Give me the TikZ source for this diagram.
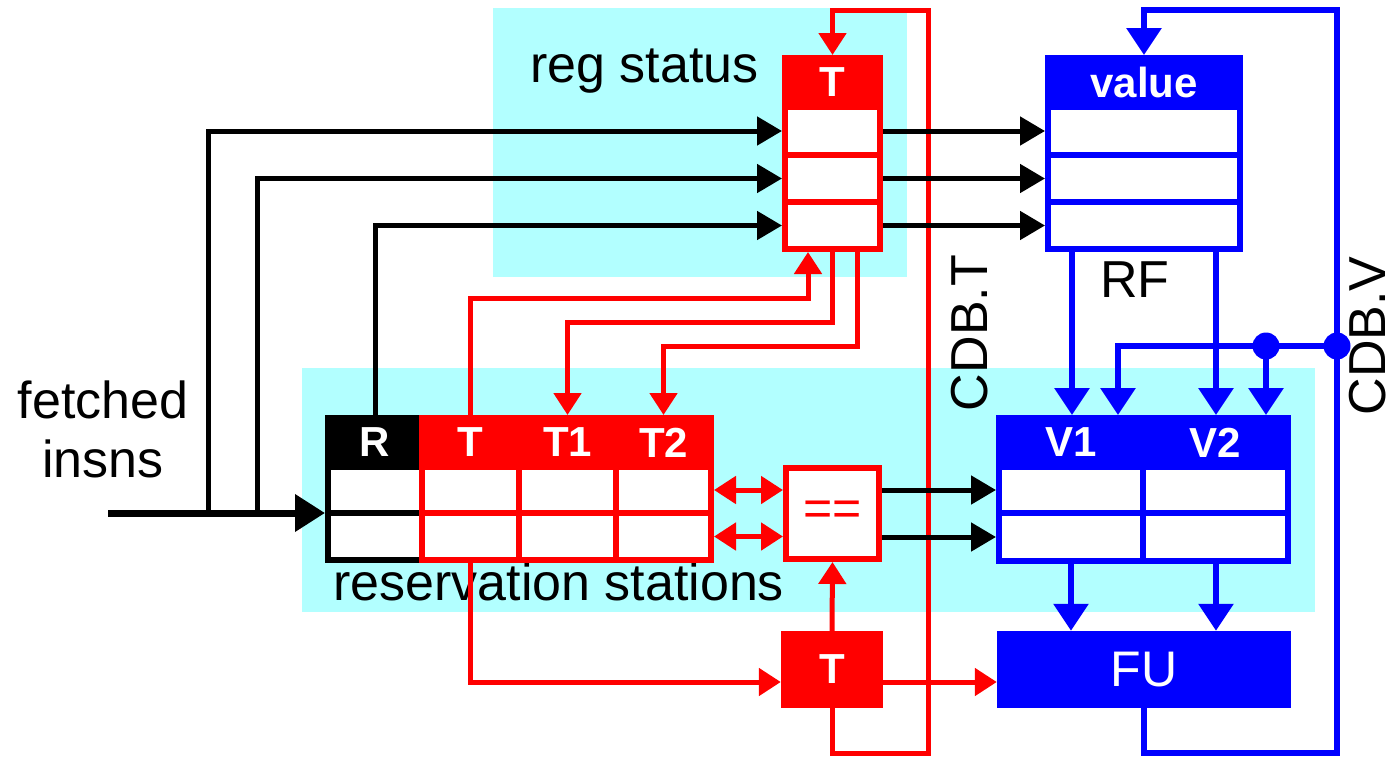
\documentclass[tikz,border=0pt]{standalone}
\usepackage{fontspec}
\setmainfont{Liberation Sans}
\usetikzlibrary{arrows.meta}
\pgfdeclarelayer{bg}
\pgfdeclarelayer{wires}
\pgfsetlayers{bg,wires,main}
\definecolor{cyanbg}{RGB}{178,255,255}
\tikzset{
  lbl/.style={font=\fontsize{52}{60}\selectfont, inner sep=0pt},
  sz/.style 2 args={minimum width=#1pt, minimum height=#2pt},
  cell/.style={draw=#1, line width=6pt, fill=white, inner sep=0pt},
  hcell/.style={draw=#1, fill=#1, line width=6pt, inner sep=0pt, text=white, font=\bfseries\fontsize{42}{50}\selectfont},
  bw/.style={draw=black, line width=5pt, -{Triangle[length=25pt,width=28pt]}},
  rw/.style={draw=red, line width=5pt, -{Triangle[length=22pt,width=27pt]}},
  rwtwo/.style={draw=red, line width=5pt, {Triangle[length=22pt,width=27pt]}-{Triangle[length=22pt,width=27pt]}},
  bluew/.style={draw=blue, line width=6pt, -{Triangle[length=27pt,width=34pt]}},
}
\begin{document}
\begin{tikzpicture}[x=1pt,y=-1pt]
\useasboundingbox (0,0) rectangle (1400,758);

% ---------- reg status table
\node[cell=red, sz={95}{48}] (st1) at (832.5,131) {};
\node[cell=red, sz={95}{47}] (st2) at (832.5,178.5) {};
\node[cell=red, sz={95}{47}] (st3) at (832.5,225.5) {};
\node[hcell=red, sz={95}{49}] (stH) at (832.5,82.5) {T};

% ---------- register file
\node[cell=blue, sz={192}{48}] (rf1) at (1144,131) {};
\node[cell=blue, sz={192}{47}] (rf2) at (1144,178.5) {};
\node[cell=blue, sz={192}{47}] (rf3) at (1144,225.5) {};
\node[hcell=blue, sz={192}{49}] (rfH) at (1144,82.5) {value};

% ---------- reservation stations
\node[cell=black, sz={94}{46}] (r1) at (375,490) {};
\node[cell=black, sz={94}{47}] (r2) at (375,536.5) {};
\node[hcell=black, sz={94}{49}] (rH) at (375,442.5) {R};
\node[cell=red, sz={97}{46}] (t1a) at (470.5,490) {};
\node[cell=red, sz={97}{47}] (t1b) at (470.5,536.5) {};
\node[cell=red, sz={97}{46}] (a1) at (567.5,490) {};
\node[cell=red, sz={97}{47}] (a2) at (567.5,536.5) {};
\node[cell=red, sz={95}{46}] (b1) at (663.5,490) {};
\node[cell=red, sz={95}{47}] (b2) at (663.5,536.5) {};
\node[hcell=red, sz={97}{49}] (tH) at (470.5,442.5) {T};
\node[hcell=red, sz={97}{49}] (aH) at (567.5,442.5) {T1};
\node[hcell=red, sz={95}{49}] (bH) at (663.5,442.5) {T2};

% ---------- V table
\node[cell=blue, sz={144}{46}] (v11) at (1071,490) {};
\node[cell=blue, sz={145}{46}] (v12) at (1215.5,490) {};
\node[cell=blue, sz={144}{48}] (v21) at (1071,537) {};
\node[cell=blue, sz={145}{48}] (v22) at (1215.5,537) {};
\node[hcell=blue, sz={144}{49}] (v1H) at (1071,442.5) {V1};
\node[hcell=blue, sz={145}{49}] (v2H) at (1215.5,442.5) {V2};

% ---------- comparator, tag, FU
\node[cell=red, sz={93}{91}, text=red, font=\fontsize{50}{60}\selectfont] (eq) at (832.5,513.5) {==};
\node[fill=red, inner sep=0pt, sz={102}{77}, text=white, font=\bfseries\fontsize{42}{50}\selectfont] (tb) at (832,669.5) {T};
\node[fill=blue, inner sep=0pt, sz={294}{77}, text=white, font=\fontsize{50}{60}\selectfont] (fu) at (1144,669.5) {FU};

% ---------- backgrounds and labels
\begin{pgfonlayer}{bg}
\fill[cyanbg] (493,8) rectangle (907,277);
\fill[cyanbg] (302,368) rectangle (1315,612);
\node[lbl, anchor=base west] (lreg) at (530,82) {reg status};
\node[lbl, anchor=base west] (lrs) at (333,600) {reservation stations};
\node[lbl, anchor=base west] (lrf) at (1100,297) {RF};
\node[lbl, anchor=base] (lf1) at (103,418) {fetched};
\node[lbl, anchor=base] (lf2) at (103,477) {insns};
\node[lbl, rotate=90] (lcdbt) at (970,333) {CDB.T};
\node[lbl, rotate=90] (lcdbv) at (1368,336) {CDB.V};
\end{pgfonlayer}

% ---------- wires
\begin{pgfonlayer}{wires}
% red
\coordinate (cbtB) at (928,753);
\coordinate (cbtT) at (928,10);
\draw[rw] (tb.south) |- (cbtB) -- (cbtT) -| (stH.north);
\coordinate (ha) at (808,298);
\draw[rw] (tH.north) |- (ha) -- (ha |- st3.south);
\draw[rw] (st3.south) |- (aH.north |- 0,322) -- (aH.north);
\draw[rw] (st3.south -| 857,0) |- (bH.north |- 0,346) -- (bH.north);
\draw[rw] (t1b.south) |- (tb.west |- 0,682);
\draw[rw] (tb.east |- 0,682) -- (fu.west |- 0,682);
\draw[rw] (tb.north) -- (eq.south);
\draw[rwtwo] (b1.east) -- (eq.west |- b1.east);
\draw[rwtwo] (b2.east) -- (eq.west |- b2.east);

% black
\coordinate (fin) at (108,513);
\coordinate (ja) at (208,513);
\coordinate (jb) at (257,513);
\draw[line width=7pt, -{Triangle[length=30pt,width=36pt]}] (fin) -- (fin -| r1.west);
\draw[bw] (ja) |- (st1.west);
\draw[bw] (jb) |- (st2.west);
\draw[bw] (rH.north) |- (st3.west);
\draw[bw] (st1.east) -- (rf1.west);
\draw[bw] (st2.east) -- (rf2.west);
\draw[bw] (st3.east) -- (rf3.west);
\draw[bw] (eq.east |- v11.west) -- (v11.west);
\draw[bw] (eq.east |- v21.west) -- (v21.west);

% blue
\coordinate (cbvB) at (1337,753);
\coordinate (cbvT) at (1337,10);
\draw[bluew] (fu.south) |- (cbvB) -- (cbvT) -| (rfH.north);
\draw[bluew] (rf3.south -| 1072,0) -- (v1H.north -| 1072,0);
\draw[bluew] (rf3.south -| 1216,0) -- (v2H.north -| 1216,0);
\coordinate (dA) at (1337,346);
\coordinate (dB) at (1266,346);
\draw[bluew] (dA) -| (v1H.north -| 1118,0);
\draw[bluew] (dB) -- (v2H.north -| 1266,0);
\fill[blue] (dA) circle (13.5);
\fill[blue] (dB) circle (13.5);
\draw[bluew] (v21.south -| 1071,0) -- (fu.north -| 1071,0);
\draw[bluew] (v22.south -| 1216,0) -- (fu.north -| 1216,0);
\end{pgfonlayer}
\end{tikzpicture}
\end{document}
